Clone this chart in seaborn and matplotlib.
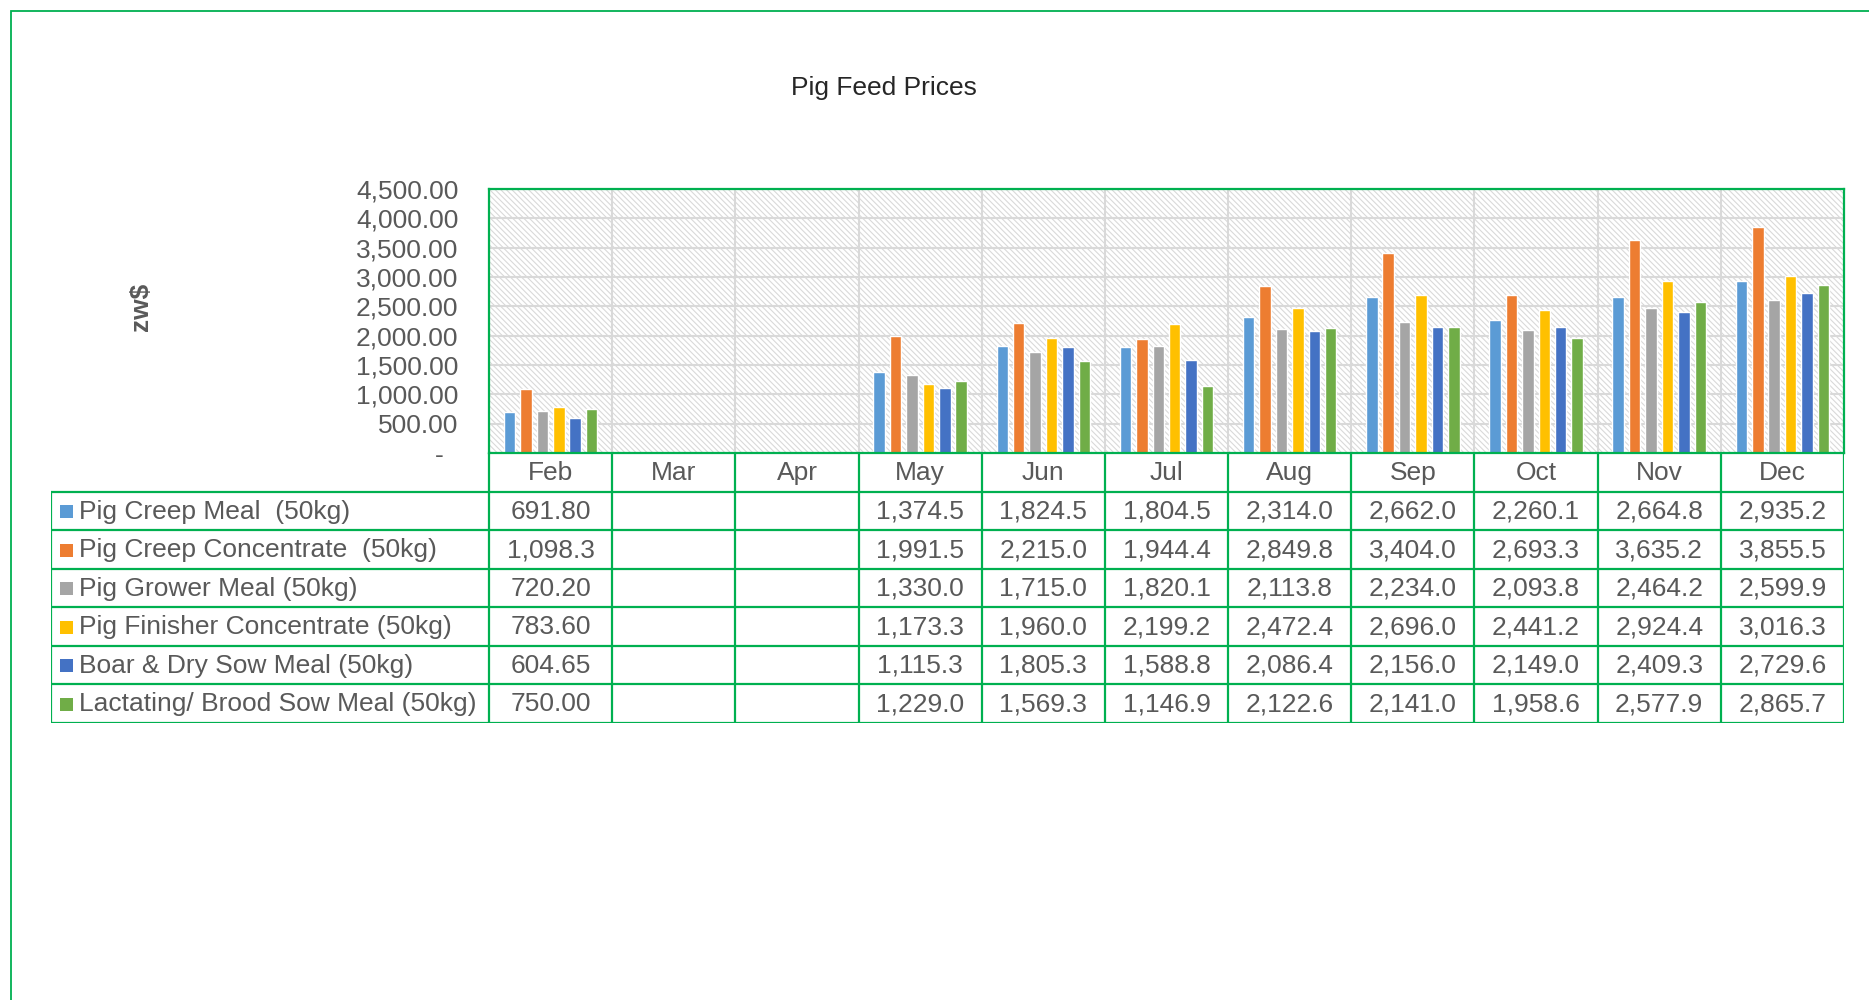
import numpy as np
import pandas as pd
import matplotlib
matplotlib.use("Agg")
import matplotlib.pyplot as plt
from matplotlib.patches import Rectangle
import seaborn as sns

# chart data
months = ["Feb", "Mar", "Apr", "May", "Jun", "Jul", "Aug", "Sep", "Oct", "Nov", "Dec"]
series_names = [
    "Pig Creep Meal  (50kg)",
    "Pig Creep Concentrate  (50kg)",
    "Pig Grower Meal (50kg)",
    "Pig Finisher Concentrate (50kg)",
    "Boar & Dry Sow Meal (50kg)",
    "Lactating/ Brood Sow Meal (50kg)",
]
nan = np.nan
creep_meal = [691.80, nan, nan, 1374.5, 1824.5, 1804.5, 2314.0, 2662.0, 2260.1, 2664.8, 2935.2]
creep_conc = [1098.3, nan, nan, 1991.5, 2215.0, 1944.4, 2849.8, 3404.0, 2693.3, 3635.2, 3855.5]
grower_meal = [720.20, nan, nan, 1330.0, 1715.0, 1820.1, 2113.8, 2234.0, 2093.8, 2464.2, 2599.9]
finisher_conc = [783.60, nan, nan, 1173.3, 1960.0, 2199.2, 2472.4, 2696.0, 2441.2, 2924.4, 3016.3]
boar_sow = [604.65, nan, nan, 1115.3, 1805.3, 1588.8, 2086.4, 2156.0, 2149.0, 2409.3, 2729.6]
lactating_sow = [750.00, nan, nan, 1229.0, 1569.3, 1146.9, 2122.6, 2141.0, 1958.6, 2577.9, 2865.7]
all_values = [creep_meal, creep_conc, grower_meal, finisher_conc, boar_sow, lactating_sow]

colors = ["#5B9BD5", "#ED7D31", "#A5A5A5", "#FFC000", "#4472C4", "#70AD47"]
green = "#00B050"
text_grey = "#595959"
grid_grey = "#D9D9D9"
fs = 19

rows = []
for name, vals in zip(series_names, all_values):
    for m, v in zip(months, vals):
        rows.append({"month": m, "series": name, "price": v})
df = pd.DataFrame(rows)

sns.set_style("white")
plt.rcParams['font.family'] = ['Liberation Sans', 'DejaVu Sans']
plt.rcParams['hatch.color'] = grid_grey
plt.rcParams['hatch.linewidth'] = 0.8

W, H = 1869, 1000
fig = plt.figure(figsize=(W / 100, H / 100), dpi=100)

# outer green frame
fig.patches.append(Rectangle((11 / W, -0.1), 1.2, 1.1 - 11 / H, transform=fig.transFigure,
                             fill=False, edgecolor=green, linewidth=1.3, figure=fig))

# main chart
ax = fig.add_axes([489 / W, 1 - 453 / H, (1844 - 489) / W, (453 - 189) / H])
ax.add_patch(Rectangle((0, 0), 1, 1, transform=ax.transAxes, facecolor="white",
                       edgecolor=grid_grey, linewidth=0, hatch="\\\\\\\\\\\\", zorder=0.1))
sns.barplot(data=df, x="month", y="price", hue="series", order=months,
            hue_order=series_names, palette=colors, saturation=1, errorbar=None,
            width=0.8, gap=0.3, legend=False, ax=ax, zorder=2)
ax.set_xlim(-0.5, len(months) - 0.5)
ax.set_ylim(0, 4500)
ax.set_yticks(np.arange(0, 4501, 500))
ax.set_yticklabels(["-  "] + [f"{t:,.2f}" for t in np.arange(500, 4501, 500)])
ax.tick_params(axis="y", length=0, pad=22, labelsize=fs, labelcolor=text_grey)
ax.set_xticks(np.arange(len(months)) + 0.5, minor=True)
ax.tick_params(axis="x", which="both", length=0, labelbottom=False)
ax.set_axisbelow(True)
ax.grid(axis="y", color=grid_grey, linewidth=1.5)
ax.grid(axis="x", which="minor", color=grid_grey, linewidth=1.5)
ax.grid(axis="x", which="major", visible=False)
ax.set_xlabel("")
ax.set_ylabel("")
for s in ax.spines.values():
    s.set_color(green)
    s.set_linewidth(1.6)

fig.text(884 / W, 1 - 88 / H, "Pig Feed Prices", ha="center", va="center", fontsize=fs)
fig.text(141 / W, 1 - 307 / H, "zw$", rotation=90, ha="center", va="center",
         fontsize=fs, fontweight="bold", color=text_grey)

# data table under the chart
left_units = (489 - 51) / ((1844 - 489) / len(months))
tab = fig.add_axes([51 / W, 1 - 723 / H, (1844 - 51) / W, (723 - 453) / H])
x0 = -0.5 - left_units
tab.set_xlim(x0, len(months) - 0.5)
tab.set_ylim(len(series_names) + 1, 0)
tab.axis("off")
lw = 1.6
n = len(months)
nr = len(series_names)
# header row lines
for i in range(n + 1):
    tab.plot([i - 0.5, i - 0.5], [0, 1], color=green, lw=lw)
# body lines
for r in range(1, nr + 2):
    tab.plot([x0, n - 0.5], [r, r], color=green, lw=lw)
for xv in [x0] + [i - 0.5 for i in range(n + 1)]:
    tab.plot([xv, xv], [1, nr + 1], color=green, lw=lw)

for i, m in enumerate(months):
    tab.text(i, 0.52, m, ha="center", va="center", fontsize=fs, color=text_grey)


def fmt(v):
    if np.isnan(v):
        return ""
    return f"{v:,.2f}" if v < 1000 else f"{v:,.1f}"


key_w = 0.11
for r, (name, vals, c) in enumerate(zip(series_names, all_values, colors)):
    y = r + 1.52
    tab.add_patch(Rectangle((x0 + 0.07, y - 0.17), key_w, 0.34, color=c, lw=0))
    tab.text(x0 + 0.23, y, name, ha="left", va="center", fontsize=fs, color=text_grey)
    for i, v in enumerate(vals):
        tab.text(i, y, fmt(v), ha="center", va="center", fontsize=fs, color=text_grey)

fig.savefig("out.png", dpi=100)
